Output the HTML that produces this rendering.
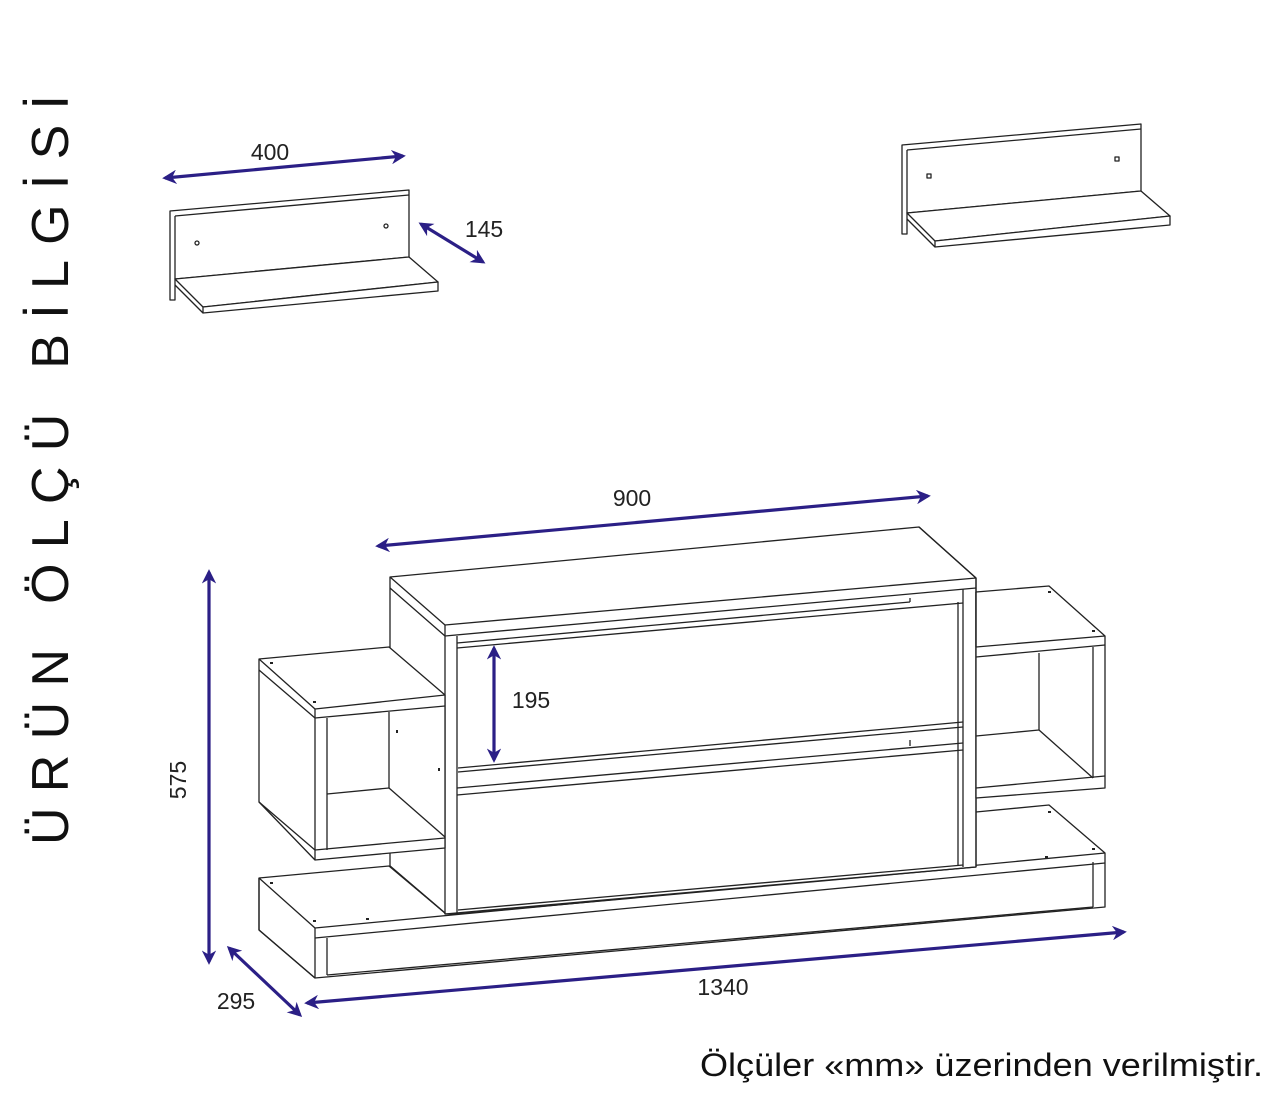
<!DOCTYPE html>
<html><head><meta charset="utf-8"><style>html,body{margin:0;padding:0;background:#fff}svg{display:block}</style></head>
<body>
<svg width="1280" height="1095" viewBox="0 0 1280 1095" xmlns="http://www.w3.org/2000/svg">
<defs>
<marker id="ah" viewBox="0 0 10 10" refX="8" refY="5" markerWidth="4.5" markerHeight="4.5" orient="auto-start-reverse">
<path d="M0,0 L10,5 L0,10 L3,5 Z" fill="#2b1f86"/>
</marker>
</defs>
<g fill="none" stroke="#222" stroke-width="1.3" stroke-linejoin="round">
<g>
<polygon points="170,211 409,190 409,257 175,279 175,300 170,300" fill="#fff"/>
<line x1="175" y1="216" x2="409" y2="195"/>
<line x1="175" y1="216" x2="175" y2="279"/>
<polygon points="175,279 409,257 438,282 203,307" fill="#fff"/>
<polygon points="203,307 438,282 438,291 203,313" fill="#fff"/>
<line x1="175" y1="285" x2="203" y2="313"/>
<circle cx="197" cy="243" r="2"/>
<circle cx="386" cy="226" r="2"/>
</g>
<g transform="translate(732,-66)">
<polygon points="170,211 409,190 409,257 175,279 175,300 170,300" fill="#fff"/>
<line x1="175" y1="216" x2="409" y2="195"/>
<line x1="175" y1="216" x2="175" y2="279"/>
<polygon points="175,279 409,257 438,282 203,307" fill="#fff"/>
<polygon points="203,307 438,282 438,291 203,313" fill="#fff"/>
<line x1="175" y1="285" x2="203" y2="313"/>
<rect x="195" y="240" width="4" height="4"/>
<rect x="383" y="223" width="4" height="4"/>
</g>

<polygon points="259,878 389,866 445,913 963,867 976,812 1049,805 1105,853 1105,907 315,978 259,930" fill="#fff"/>
<line x1="259" y1="878" x2="315" y2="928"/>
<line x1="315" y1="928" x2="1105" y2="853"/>
<line x1="315" y1="938" x2="1105" y2="863"/>
<line x1="315" y1="928" x2="315" y2="978"/>
<line x1="327" y1="938" x2="327" y2="975"/>
<line x1="327" y1="975" x2="1093" y2="907"/>
<line x1="1093" y1="862" x2="1093" y2="907"/>
<line x1="259" y1="930" x2="315" y2="978"/>
<line x1="259" y1="878" x2="259" y2="930"/>

<polygon points="390,577 919,527 976,578 976,867 457,914 445,914 445,913 390,866" fill="#fff"/>
<line x1="390" y1="577" x2="445" y2="625"/>
<line x1="390" y1="588" x2="445" y2="636"/>
<line x1="445" y1="625" x2="976" y2="578"/>
<line x1="445" y1="636" x2="976" y2="588"/>
<line x1="919" y1="527" x2="976" y2="578"/>
<line x1="445" y1="625" x2="445" y2="914"/>
<line x1="457" y1="636" x2="457" y2="914"/>
<line x1="963" y1="589" x2="963" y2="867"/>
<line x1="976" y1="578" x2="976" y2="867"/>
<line x1="390" y1="866" x2="445" y2="913"/>
<line x1="445" y1="914" x2="976" y2="867"/>
<line x1="457" y1="643" x2="910" y2="602"/>
<line x1="910" y1="602" x2="910" y2="598"/>
<line x1="457" y1="648" x2="963" y2="603"/>
<line x1="458" y1="768" x2="963" y2="722"/>
<line x1="458" y1="772" x2="963" y2="727"/>
<line x1="457" y1="788" x2="963" y2="743"/>
<line x1="457" y1="795" x2="963" y2="750"/>
<line x1="910" y1="740" x2="910" y2="746"/>
<line x1="458" y1="910" x2="963" y2="865"/>
<line x1="958" y1="602" x2="958" y2="865"/>

<polygon points="259,659 389,647 445,695 445,848 315,860 259,802" fill="#fff"/>
<line x1="259" y1="659" x2="315" y2="709"/>
<line x1="259" y1="670" x2="315" y2="718"/>
<line x1="315" y1="709" x2="445" y2="695"/>
<line x1="315" y1="718" x2="445" y2="706"/>
<line x1="315" y1="709" x2="315" y2="860"/>
<line x1="327" y1="718" x2="327" y2="850"/>
<line x1="389" y1="712" x2="389" y2="788"/>
<line x1="327" y1="794" x2="389" y2="788"/>
<line x1="389" y1="788" x2="445" y2="837"/>
<line x1="315" y1="850" x2="445" y2="838"/>
<line x1="259" y1="802" x2="315" y2="850"/>

<polygon points="976,592 1049,586 1105,636 1105,788 976,798" fill="#fff"/>
<line x1="976" y1="647" x2="1105" y2="636"/>
<line x1="976" y1="657" x2="1105" y2="645"/>
<line x1="1093" y1="647" x2="1093" y2="778"/>
<line x1="1039" y1="653" x2="1039" y2="730"/>
<line x1="976" y1="736" x2="1039" y2="730"/>
<line x1="1039" y1="730" x2="1093" y2="778"/>
<line x1="976" y1="788" x2="1105" y2="776"/>
<line x1="976" y1="592" x2="976" y2="647"/>
</g>
<g fill="#222">
<rect x="270" y="662" width="3" height="2"/><rect x="313" y="701" width="3" height="2"/>
<rect x="396" y="730" width="2" height="3"/><rect x="438" y="768" width="2" height="3"/>
<rect x="270" y="882" width="3" height="2"/><rect x="313" y="920" width="3" height="2"/><rect x="366" y="918" width="3" height="2"/>
<rect x="1048" y="591" width="3" height="2"/><rect x="1092" y="630" width="3" height="2"/>
<rect x="1048" y="811" width="3" height="2"/><rect x="1092" y="848" width="3" height="2"/><rect x="1045" y="856" width="3" height="2"/>
</g>

<g stroke="#2b1f86" stroke-width="3.2" fill="none" marker-start="url(#ah)" marker-end="url(#ah)">
<line x1="165" y1="178" x2="403" y2="156"/>
<line x1="421" y1="224" x2="483" y2="262"/>
<line x1="378" y1="546" x2="928" y2="496"/>
<line x1="494" y1="648" x2="494" y2="760"/>
<line x1="209" y1="572" x2="209" y2="962"/>
<line x1="307" y1="1003" x2="1124" y2="932"/>
<line x1="229" y1="948" x2="300" y2="1015"/>
</g>

<g font-family="Liberation Sans, sans-serif" fill="#222" font-size="23">
<text x="270" y="160" text-anchor="middle">400</text>
<text x="484" y="237" text-anchor="middle">145</text>
<text x="632" y="506" text-anchor="middle">900</text>
<text x="531" y="708" text-anchor="middle">195</text>
<text x="723" y="995" text-anchor="middle">1340</text>
<text x="236" y="1009" text-anchor="middle">295</text>
<text transform="translate(186,780) rotate(-90)" text-anchor="middle">575</text>
<text x="700" y="1076" font-size="32" fill="#111" textLength="563" lengthAdjust="spacingAndGlyphs">Ölçüler «mm» üzerinden verilmiştir.</text>
<text transform="translate(68,845) rotate(-90)" font-size="52" fill="#111" textLength="750" lengthAdjust="spacing">ÜRÜN ÖLÇÜ BİLGİSİ</text>
</g>
</svg>
</body></html>
